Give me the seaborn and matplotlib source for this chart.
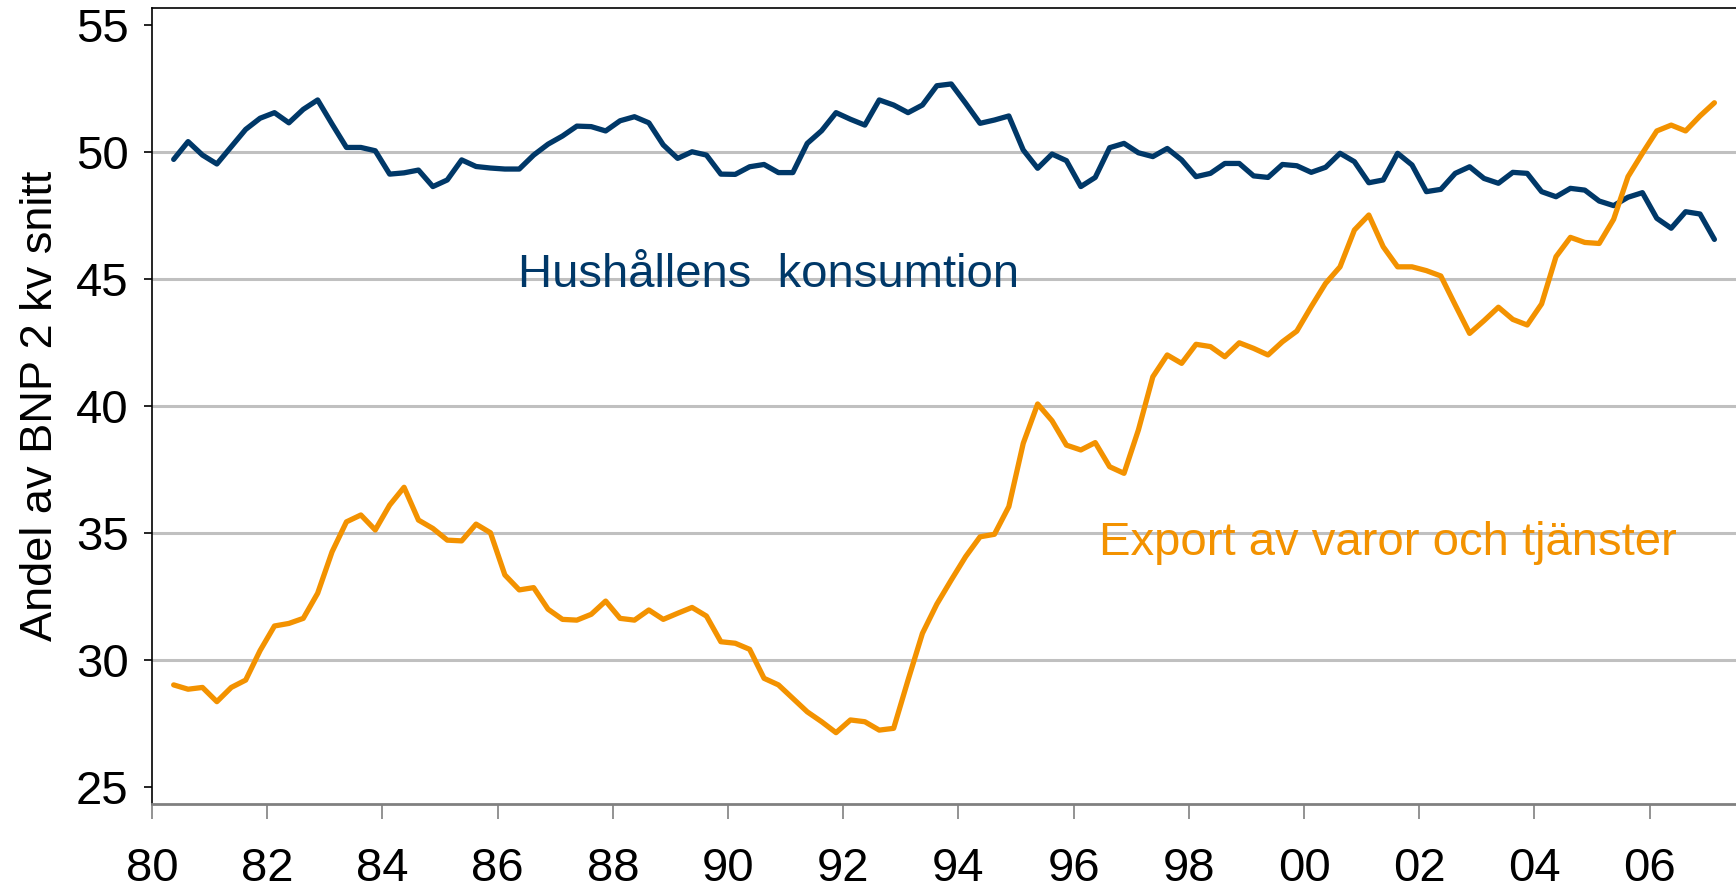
import numpy as np
import pandas as pd
import matplotlib
matplotlib.use("Agg")
import matplotlib.pyplot as plt
import seaborn as sns

# ------------------------------
# Data (quarterly 1980Q2 - 2007Q1)
# ------------------------------
quarters = pd.period_range("1980Q2", "2007Q1", freq="Q")

hushall = [49.71, 50.41, 49.88, 49.53, 50.21, 50.89, 51.33, 51.55, 51.15, 51.68,
           52.05, 51.10, 50.18, 50.18, 50.05, 49.13, 49.18, 49.29, 48.64, 48.90,
           49.69, 49.43, 49.37, 49.33, 49.33, 49.88, 50.31, 50.63, 51.02, 51.00,
           50.83, 51.23, 51.39, 51.15, 50.28, 49.75, 50.01, 49.88, 49.13, 49.12,
           49.42, 49.51, 49.19, 49.19, 50.34, 50.84, 51.55, 51.29, 51.06, 52.05,
           51.85, 51.55, 51.85, 52.61, 52.68, 51.92, 51.13, 51.26, 51.42,
           50.08, 49.36, 49.92, 49.66, 48.64, 49.00, 50.17, 50.34, 49.97, 49.82,
           50.14, 49.69, 49.03, 49.16, 49.55, 49.55, 49.06, 49.00, 49.51, 49.46,
           49.20, 49.40, 49.95, 49.62, 48.79, 48.90, 49.95, 49.49,
           48.44, 48.53, 49.16, 49.42, 48.96, 48.77, 49.20, 49.16, 48.44, 48.24,
           48.57, 48.50, 48.07, 47.89, 48.22, 48.40, 47.39, 47.00, 47.65, 47.56,
           46.56]

export = [29.02, 28.85, 28.92, 28.36, 28.92, 29.21, 30.37, 31.34, 31.44, 31.64,
          32.63, 34.26, 35.44, 35.71, 35.12, 36.10, 36.80, 35.51, 35.18, 34.72,
          34.69, 35.35, 35.01, 33.35, 32.76, 32.85, 32.00, 31.60, 31.57, 31.80,
          32.32, 31.64, 31.57, 31.97, 31.60, 31.84, 32.07, 31.73, 30.72, 30.66,
          30.42, 29.28, 29.02, 28.49, 27.96, 27.57, 27.14, 27.64, 27.57, 27.24,
          27.31, 29.21, 31.05, 32.20, 33.15, 34.07, 34.85, 34.95, 36.04,
          38.53, 40.08, 39.42, 38.46, 38.27, 38.56, 37.61, 37.35, 39.06, 41.15,
          42.01, 41.68, 42.43, 42.34, 41.94, 42.49, 42.27, 42.01, 42.53, 42.95,
          43.91, 44.83, 45.48, 46.93, 47.52, 46.27, 45.48, 45.48,
          45.33, 45.12, 43.98, 42.86, 43.36, 43.89, 43.41, 43.19, 44.02, 45.88,
          46.64, 46.44, 46.40, 47.35, 49.03, 49.95, 50.83, 51.06, 50.83, 51.42,
          51.94]

series_names = ["Hushållens  konsumtion", "Export av varor och tjänster"]
colors = ["#003868", "#F39200"]
tick_years = list(range(1980, 2007, 2))
tick_labels = [f"{y % 100:02d}" for y in tick_years]
y_ticks = [25, 30, 35, 40, 45, 50, 55]

# long-form table for seaborn
x_pos = np.array([p.year + (p.quarter - 0.5) / 4 for p in quarters])
df = pd.DataFrame({
    "x": np.concatenate([x_pos, x_pos]),
    "value": hushall + export,
    "serie": [series_names[0]] * len(hushall) + [series_names[1]] * len(export),
})

# ------------------------------
# Plot
# ------------------------------
sns.set_style("white")
plt.rcParams["font.family"] = ["Liberation Sans", "DejaVu Sans"]
plt.rcParams["text.color"] = "black"
plt.rcParams["axes.labelcolor"] = "black"

fig = plt.figure(figsize=(17.36, 8.9), dpi=100)
ax = fig.add_axes([0.0876, 0.0966, 0.9124, 0.8944])

sns.lineplot(data=df, x="x", y="value", hue="serie", palette=colors,
             linewidth=3.8, legend=False, ax=ax)

ax.set_xlim(1980, 2007.5)
ax.set_ylim(24.33, 55.67)
ax.set_xticks(tick_years)
ax.set_xticklabels(tick_labels)
ax.set_yticks(y_ticks)
ax.set_xlabel("")
ax.set_ylabel("Andel av BNP 2 kv snitt", fontsize=32.5, labelpad=11)

ax.yaxis.grid(True, color="#C0C0C0", linewidth=2.2)
ax.xaxis.grid(False)
ax.set_axisbelow(True)
gl = ax.get_ygridlines()
gl[0].set_visible(False)
gl[-1].set_visible(False)

ax.tick_params(axis="y", direction="out", length=5.8, width=1.2, color="black",
               pad=11, labelsize=34, labelcolor="black", left=True)
ax.tick_params(axis="x", direction="out", length=11, width=1.2, color="#808080",
               pad=20, labelsize=34, labelcolor="black", bottom=True)

for side in ["left", "top"]:
    ax.spines[side].set_color("black")
    ax.spines[side].set_linewidth(1.2)
ax.spines["bottom"].set_color("#808080")
ax.spines["bottom"].set_linewidth(2)
ax.spines["right"].set_visible(False)

# series labels
ax.text(1986.35, 44.69, series_names[0], color=colors[0], fontsize=34, va="baseline")
ax.text(1996.44, 34.13, series_names[1], color=colors[1], fontsize=34, va="baseline")

plt.savefig("out.png", dpi=100)
